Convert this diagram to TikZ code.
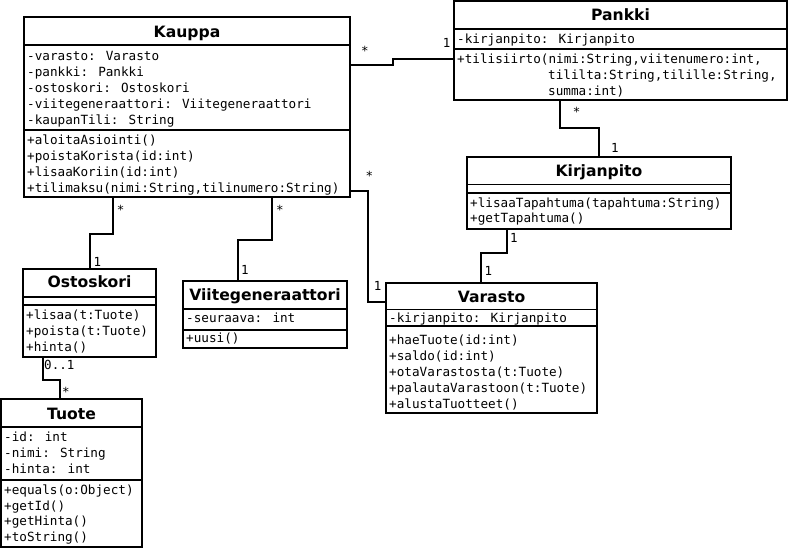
\documentclass[tikz,border=0pt]{standalone}
\usepackage{fontspec}
\newfontfamily\monof{DejaVu Sans Mono}
\newfontfamily\titlef{DejaVu Sans}
\tikzset{
  x=1pt, y=-1pt,
  classbox/.style={draw, line width=2pt, inner sep=0pt, outer sep=0pt, anchor=north west, fill=white},
  divline/.style={line width=1.6pt},
  conn/.style={line width=2pt},
  ctitle/.style={anchor=base, inner sep=0pt, font=\titlef\bfseries\fontsize{15.6}{18}\selectfont},
  mem/.style={anchor=base west, inner sep=0pt, font=\monof\fontsize{12.65}{16}\selectfont},
  mult/.style={anchor=base, inner sep=0pt, font=\monof\fontsize{12.5}{14}\selectfont},
}
\begin{document}
\begin{tikzpicture}
\fill[white] (0,0) rectangle (790,550);
\useasboundingbox (0,0) rectangle (790,550);

% ---------- Kauppa ----------
\node[classbox, minimum width=326pt, minimum height=180pt] (kauppa) at (24,17) {};
\draw[divline] (kauppa.west |- 0,45) -- (kauppa.east |- 0,45);
\draw[divline] (kauppa.west |- 0,130) -- (kauppa.east |- 0,130);
\node[ctitle] (kauppaT) at (187,37.5) {Kauppa};
\node[mem] (ka1) at (27,60.2) {-varasto: Varasto};
\node[mem] (ka2) at (27,76.2) {-pankki: Pankki};
\node[mem] (ka3) at (27,92.2) {-ostoskori: Ostoskori};
\node[mem] (ka4) at (27,108.2) {-viitegeneraattori: Viitegeneraattori};
\node[mem] (ka5) at (27,124) {-kaupanTili: String};
\node[mem] (km1) at (27,144.8) {+aloitaAsiointi()};
\node[mem] (km2) at (27,160.5) {+poistaKorista(id:int)};
\node[mem] (km3) at (27,176.2) {+lisaaKoriin(id:int)};
\node[mem] (km4) at (27,192.5) {+tilimaksu(nimi:String,tilinumero:String)};

% ---------- Pankki ----------
\node[classbox, minimum width=333pt, minimum height=99pt] (pankki) at (454,1) {};
\draw[divline] (pankki.west |- 0,29) -- (pankki.east |- 0,29);
\draw[divline] (pankki.west |- 0,49) -- (pankki.east |- 0,49);
\node[ctitle] (pankkiT) at (620.5,20.6) {Pankki};
\node[mem] (pa1) at (457,43.5) {-kirjanpito: Kirjanpito};
\node[mem] (pm1) at (457,63.8) {+tilisiirto(nimi:String,viitenumero:int,};
\node[mem] (pm2) at (548,79.5) {tililta:String,tilille:String,};
\node[mem] (pm3) at (548,95.2) {summa:int)};

% ---------- Kirjanpito ----------
\node[classbox, minimum width=264pt, minimum height=72pt] (kirjanpito) at (467,157) {};
\draw[divline] (kirjanpito.west |- 0,184.5) -- (kirjanpito.east |- 0,184.5);
\draw[divline] (kirjanpito.west |- 0,192.7) -- (kirjanpito.east |- 0,192.7);
\node[ctitle] (kirjanpitoT) at (599,176.3) {Kirjanpito};
\node[mem] (kim1) at (470,207.2) {+lisaaTapahtuma(tapahtuma:String)};
\node[mem] (kim2) at (470,222.8) {+getTapahtuma()};

% ---------- Varasto ----------
\node[classbox, minimum width=211pt, minimum height=130pt] (varasto) at (386,283) {};
\draw[divline] (varasto.west |- 0,309.5) -- (varasto.east |- 0,309.5);
\draw[divline] (varasto.west |- 0,326) -- (varasto.east |- 0,326);
\node[ctitle] (varastoT) at (491.5,302.6) {Varasto};
\node[mem] (va1) at (389,322.5) {-kirjanpito: Kirjanpito};
\node[mem] (vm1) at (389,344.5) {+haeTuote(id:int)};
\node[mem] (vm2) at (389,360.5) {+saldo(id:int)};
\node[mem] (vm3) at (389,376.5) {+otaVarastosta(t:Tuote)};
\node[mem] (vm4) at (389,392.5) {+palautaVarastoon(t:Tuote)};
\node[mem] (vm5) at (389,408.5) {+alustaTuotteet()};

% ---------- Ostoskori ----------
\node[classbox, minimum width=133pt, minimum height=88pt] (ostoskori) at (23,269) {};
\draw[divline] (ostoskori.west |- 0,297) -- (ostoskori.east |- 0,297);
\draw[divline] (ostoskori.west |- 0,305) -- (ostoskori.east |- 0,305);
\node[ctitle] (ostoskoriT) at (89.5,287.3) {Ostoskori};
\node[mem] (om1) at (26,319.5) {+lisaa(t:Tuote)};
\node[mem] (om2) at (26,335.5) {+poista(t:Tuote)};
\node[mem] (om3) at (26,351) {+hinta()};

% ---------- Viitegeneraattori ----------
\node[classbox, minimum width=164pt, minimum height=67pt] (viite) at (183,281) {};
\draw[divline] (viite.west |- 0,309) -- (viite.east |- 0,309);
\draw[divline] (viite.west |- 0,330) -- (viite.east |- 0,330);
\node[ctitle] (viiteT) at (265,300.6) {Viitegeneraattori};
\node[mem] (vga1) at (186,322.8) {-seuraava: int};
\node[mem] (vgm1) at (186,342.8) {+uusi()};

% ---------- Tuote ----------
\node[classbox, minimum width=141pt, minimum height=148pt] (tuote) at (1,399) {};
\draw[divline] (tuote.west |- 0,427) -- (tuote.east |- 0,427);
\draw[divline] (tuote.west |- 0,480) -- (tuote.east |- 0,480);
\node[ctitle] (tuoteT) at (71.5,419) {Tuote};
\node[mem] (ta1) at (4,441.8) {-id: int};
\node[mem] (ta2) at (4,457.8) {-nimi: String};
\node[mem] (ta3) at (4,473.5) {-hinta: int};
\node[mem] (tm1) at (4,494.5) {+equals(o:Object)};
\node[mem] (tm2) at (4,510) {+getId()};
\node[mem] (tm3) at (4,525.5) {+getHinta()};
\node[mem] (tm4) at (4,541) {+toString()};

% ---------- connectors ----------
\draw[conn] (kauppa.east |- 0,65) -| (393,59) -- (pankki.west |- 0,59);
\draw[conn] (pankki.south -| 560,0) |- (599,128) -- (kirjanpito.north -| 599,0);
\draw[conn] (kirjanpito.south -| 507,0) |- (481,253) -- (varasto.north -| 481,0);
\draw[conn] (kauppa.east |- 0,191) -| (368,302) -- (varasto.west |- 0,302);
\draw[conn] (kauppa.south -| 113,0) |- (90,234) -- (ostoskori.north -| 90,0);
\draw[conn] (kauppa.south -| 272,0) |- (238,240) -- (viite.north -| 238,0);
\draw[conn] (ostoskori.south -| 43,0) |- (60,380) -- (tuote.north -| 60,0);

% ---------- multiplicities ----------
\node[mult] (m1a) at (365,55.5) {*};
\node[mult] (m1b) at (446.7,47.9) {1};
\node[mult] (m2a) at (576.7,116.5) {*};
\node[mult] (m2b) at (615,152.3) {1};
\node[mult] (m3a) at (514,242.9) {1};
\node[mult] (m3b) at (488.3,275.6) {1};
\node[mult] (m4a) at (369.3,180.5) {*};
\node[mult] (m4b) at (377.7,290.6) {1};
\node[mult] (m5a) at (120.7,214) {*};
\node[mult] (m5b) at (97.3,266.3) {1};
\node[mult] (m6a) at (280,214) {*};
\node[mult] (m6b) at (245,274.6) {1};
\node[mult] (m7a) at (59.3,369.6) {0..1};
\node[mult] (m7b) at (66,396) {*};
\end{tikzpicture}
\end{document}
